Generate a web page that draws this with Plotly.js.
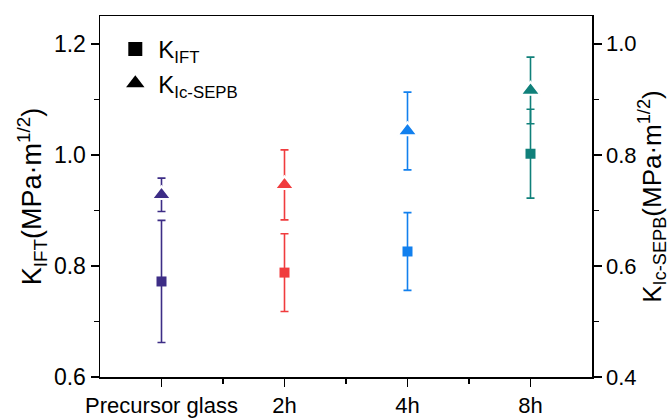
<!DOCTYPE html>
<html><head><meta charset="utf-8">
<script src="https://cdn.plot.ly/plotly-3.0.1.min.js"></script>
<style>html,body{margin:0;padding:0;background:#fff}#chart{width:670px;height:418px}</style>
</head><body><div id="chart"></div>
<script>
const categories = ["Precursor glass", "2h", "4h", "8h"];
const kIFT = [0.772, 0.788, 0.826, 1.002];
const kIFTErr = [0.110, 0.070, 0.070, 0.080];
const kSEPB = [0.728, 0.746, 0.843, 0.916];
const kSEPBErr = [0.030, 0.063, 0.070, 0.060];
const colors = ["#3d2d86", "#f03c3e", "#1280ee", "#10807a"];

const xs = categories.map((c, i) => i);
const traces = [];
categories.forEach((c, i) => {
  traces.push({
    x: [xs[i]], y: [kIFT[i]], type: "scatter", mode: "markers", showlegend: false,
    marker: {symbol: "square", size: 10, color: colors[i]},
    error_y: {type: "data", array: [kIFTErr[i]], visible: true, color: colors[i], thickness: 1.6, width: 4},
    xaxis: "x", yaxis: "y"
  });
  traces.push({
    x: [xs[i]], y: [kSEPB[i]], type: "scatter", mode: "markers", showlegend: false,
    marker: {symbol: "triangle-up", size: 17, color: colors[i], line: {color: "#fff", width: 2}},
    error_y: {type: "data", array: [kSEPBErr[i]], visible: true, color: colors[i], thickness: 1.6, width: 4},
    xaxis: "x", yaxis: "y2"
  });
});
// legend entries
traces.push({x: [null], y: [null], type: "scatter", mode: "markers", name: "K<sub>IFT</sub>",
  marker: {symbol: "square", size: 14, color: "#000"}, showlegend: true});
traces.push({x: [null], y: [null], type: "scatter", mode: "markers", name: "K<sub>Ic-SEPB</sub>",
  marker: {symbol: "triangle-up", size: 17, color: "#000"}, showlegend: true});

const FONT = "Arial, 'Liberation Sans', sans-serif";
const layout = {
  width: 670, height: 418,
  margin: {l: 100, r: 78, t: 16, b: 41},
  paper_bgcolor: "#fff", plot_bgcolor: "#fff",
  font: {family: FONT, color: "#000"},
  showlegend: true,
  legend: {x: 0.025, y: 0.97, xanchor: "left", yanchor: "top", bgcolor: "rgba(0,0,0,0)",
    font: {size: 24, family: FONT}, itemwidth: 36, tracegroupgap: 0},
  xaxis: {
    range: [-0.5, 3.5], tickmode: "array", tickvals: xs, ticktext: categories,
    ticks: "outside", ticklen: 8, tickwidth: 1.5, tickcolor: "#000",
    tickfont: {size: 22, family: FONT},
    showline: true, linecolor: "#000", linewidth: 1.5, mirror: true,
    showgrid: false, zeroline: false, fixedrange: true,
    minor: {tickmode: "array", tickvals: [0.5, 1.5, 2.5], ticks: "outside", ticklen: 5, tickwidth: 1.5, tickcolor: "#000", showgrid: false}
  },
  yaxis: {
    range: [0.6, 1.25], tickmode: "linear", tick0: 0.6, dtick: 0.2, tickformat: ".1f",
    ticks: "outside", ticklen: 8, tickwidth: 1.5, tickcolor: "#000",
    tickfont: {size: 23, family: FONT},
    showline: true, linecolor: "#000", linewidth: 1.5, mirror: true,
    showgrid: false, zeroline: false,
    minor: {dtick: 0.1, tick0: 0.6, ticks: "outside", ticklen: 5, tickwidth: 1.5, tickcolor: "#000", showgrid: false},
    title: {text: "K<sub>IFT</sub>(MPa·m<sup>1/2</sup>)", font: {size: 27, family: FONT}, standoff: 4}
  },
  yaxis2: {
    overlaying: "y", side: "right",
    range: [0.4, 1.05], tickmode: "linear", tick0: 0.4, dtick: 0.2, tickformat: ".1f",
    ticks: "outside", ticklen: 8, tickwidth: 1.5, tickcolor: "#000",
    tickfont: {size: 22, family: FONT},
    showline: true, linecolor: "#000", linewidth: 1.5,
    showgrid: false, zeroline: false,
    minor: {dtick: 0.1, tick0: 0.4, ticks: "outside", ticklen: 5, tickwidth: 1.5, tickcolor: "#000", showgrid: false},
    title: {text: "K<sub>Ic-SEPB</sub>(MPa·m<sup>1/2</sup>)", font: {size: 26, family: FONT}, standoff: 2}
  }
};
Plotly.newPlot("chart", traces, layout, {staticPlot: true, displayModeBar: false});
</script></body></html>
